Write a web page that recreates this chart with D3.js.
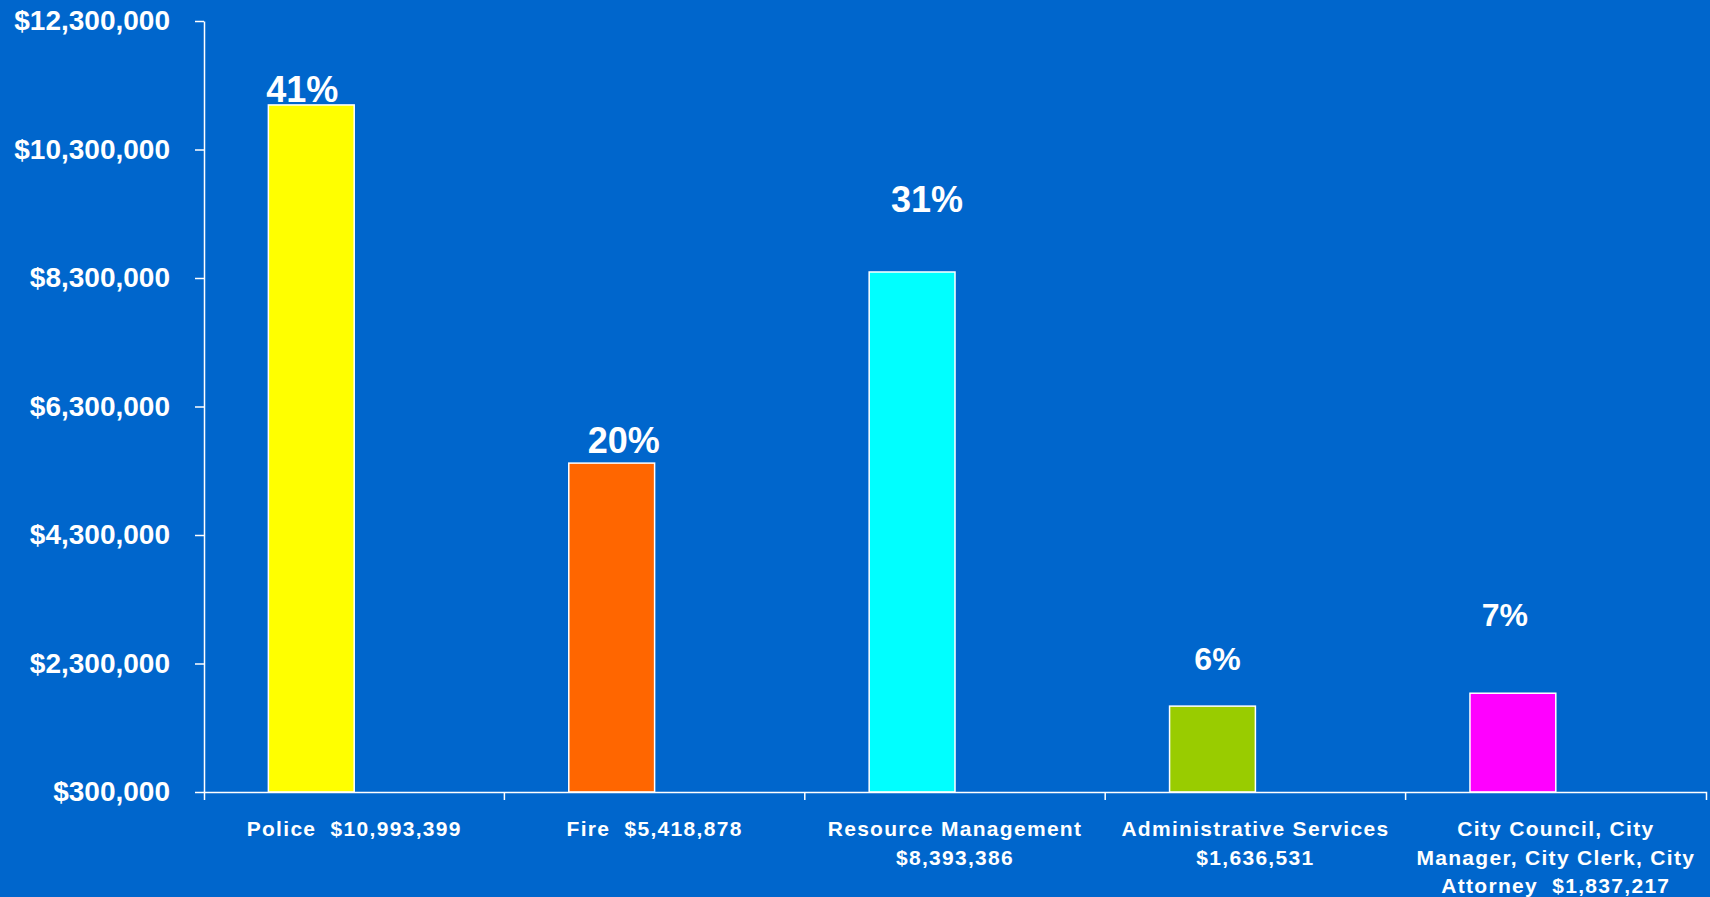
<!DOCTYPE html>
<html>
<head>
<meta charset="utf-8">
<script src="https://cdnjs.cloudflare.com/ajax/libs/d3/7.8.5/d3.min.js"></script>
<style>
  body { margin: 0; background: #0066cc; }
  text { font-family: "Liberation Sans", Arial, sans-serif; font-weight: bold; fill: white; }
  .axis path, .axis line { stroke: white; stroke-width: 1.5; }
  .cat-label { white-space: pre; letter-spacing: 1.3px; }
</style>
</head>
<body>
<div id="chart"></div>
<script>
var categories = ["Police", "Fire", "Resource Management", "Administrative Services", "City Council, City Manager, City Clerk, City Attorney"];
var amounts = [10993399, 5418878, 8393386, 1636531, 1837217];
var percents = ["41%", "20%", "31%", "6%", "7%"];
var categoryLines = [
  ["Police  $10,993,399"],
  ["Fire  $5,418,878"],
  ["Resource Management", "$8,393,386"],
  ["Administrative Services", "$1,636,531"],
  ["City Council, City", "Manager, City Clerk, City", "Attorney  $1,837,217"]
];
var yTicks = [300000, 2300000, 4300000, 6300000, 8300000, 10300000, 12300000];

(function() {
  var margin = { top: 21, left: 204, right: 4, bottom: 105 },
    width = 1710 - margin.left - margin.right,
    height = 897 - margin.top - margin.bottom;

  var svg = d3.select("#chart")
    .append("svg")
    .attr("width", 1710)
    .attr("height", 897)
    .style("display", "block")
    .append("g")
    .attr("transform", "translate(" + margin.left + "," + margin.top + ")");

  var datapoints = categories.map(function(c, i) {
    return { name: c, amount: amounts[i], pct: percents[i], lines: categoryLines[i] }
  })

  var xPositionScale = d3.scaleBand().domain(categories).range([0, width]);
  // excel style group: the bar sits in the first of two slots
  var xInner = d3.scaleBand().domain(["amount", "empty"]).range([0, xPositionScale.bandwidth()]).paddingOuter(0.75);
  var yPositionScale = d3.scaleLinear().domain([300000, 12300000]).range([height, 0]);

  var colourScale = d3.scaleOrdinal()
    .domain(categories)
    .range(["#ffff00", "#ff6600", "#00ffff", "#99cc00", "#ff00ff"]);

  // nudges for the percent labels [dx, lift above bar, font size]
  var pctLayout = [[-9, 3, 36], [12, 10, 36], [15, 60, 36], [5, 36, 32], [-8, 67, 32]];

  svg.selectAll(".bar")
    .data(datapoints)
    .enter().append("rect")
    .attr("class", "bar")
    .attr("x", function(d) { return xPositionScale(d.name) + xInner("amount") })
    .attr("width", xInner.bandwidth())
    .attr("y", function(d) { return yPositionScale(d.amount) })
    .attr("height", function(d) { return height - yPositionScale(d.amount) })
    .attr("fill", function(d) { return colourScale(d.name) })
    .attr("stroke", "white")
    .attr("stroke-width", 1.5)

  svg.selectAll(".pct")
    .data(datapoints)
    .enter().append("text")
    .attr("class", "pct")
    .attr("text-anchor", "middle")
    .attr("x", function(d, i) {
      return xPositionScale(d.name) + xInner("amount") + xInner.bandwidth() / 2 + pctLayout[i][0]
    })
    .attr("y", function(d, i) { return yPositionScale(d.amount) - pctLayout[i][1] })
    .attr("font-size", function(d, i) { return pctLayout[i][2] + "px" })
    .text(function(d) { return d.pct })

  var yAxis = d3.axisLeft(yPositionScale)
    .tickValues(yTicks)
    .tickSize(9)
    .tickSizeOuter(0)
    .tickPadding(25)
    .tickFormat(function(d) { return "$" + d3.format(",")(d) });

  svg.append("g")
    .attr("class", "axis y-axis")
    .call(yAxis)
    .selectAll("text")
    .attr("font-size", "28px")
    .style("fill", "white")

  var xAxis = d3.axisBottom(xPositionScale)
    .tickSize(0)
    .tickSizeOuter(8)
    .tickFormat("");

  var xg = svg.append("g")
    .attr("class", "axis x-axis")
    .attr("transform", "translate(0," + height + ")")
    .call(xAxis)

  // tick marks between the categories
  xg.selectAll(".divider")
    .data(categories.slice(1))
    .enter().append("line")
    .attr("class", "divider")
    .attr("x1", function(d) { return xPositionScale(d) })
    .attr("x2", function(d) { return xPositionScale(d) })
    .attr("y1", 0)
    .attr("y2", 8)

  var labels = xg.selectAll(".cat-label")
    .data(datapoints)
    .enter().append("text")
    .attr("class", "cat-label")
    .attr("text-anchor", "middle")
    .attr("font-size", "21px")
    .attr("y", 44)

  labels.selectAll("tspan")
    .data(function(d) {
      return d.lines.map(function(l) { return { line: l, name: d.name } })
    })
    .enter().append("tspan")
    .attr("x", function(d) { return xPositionScale(d.name) + xPositionScale.bandwidth() / 2 })
    .attr("dy", function(d, i) { return i == 0 ? 0 : 28.5 })
    .text(function(d) { return d.line })
})();
</script>
</body>
</html>
